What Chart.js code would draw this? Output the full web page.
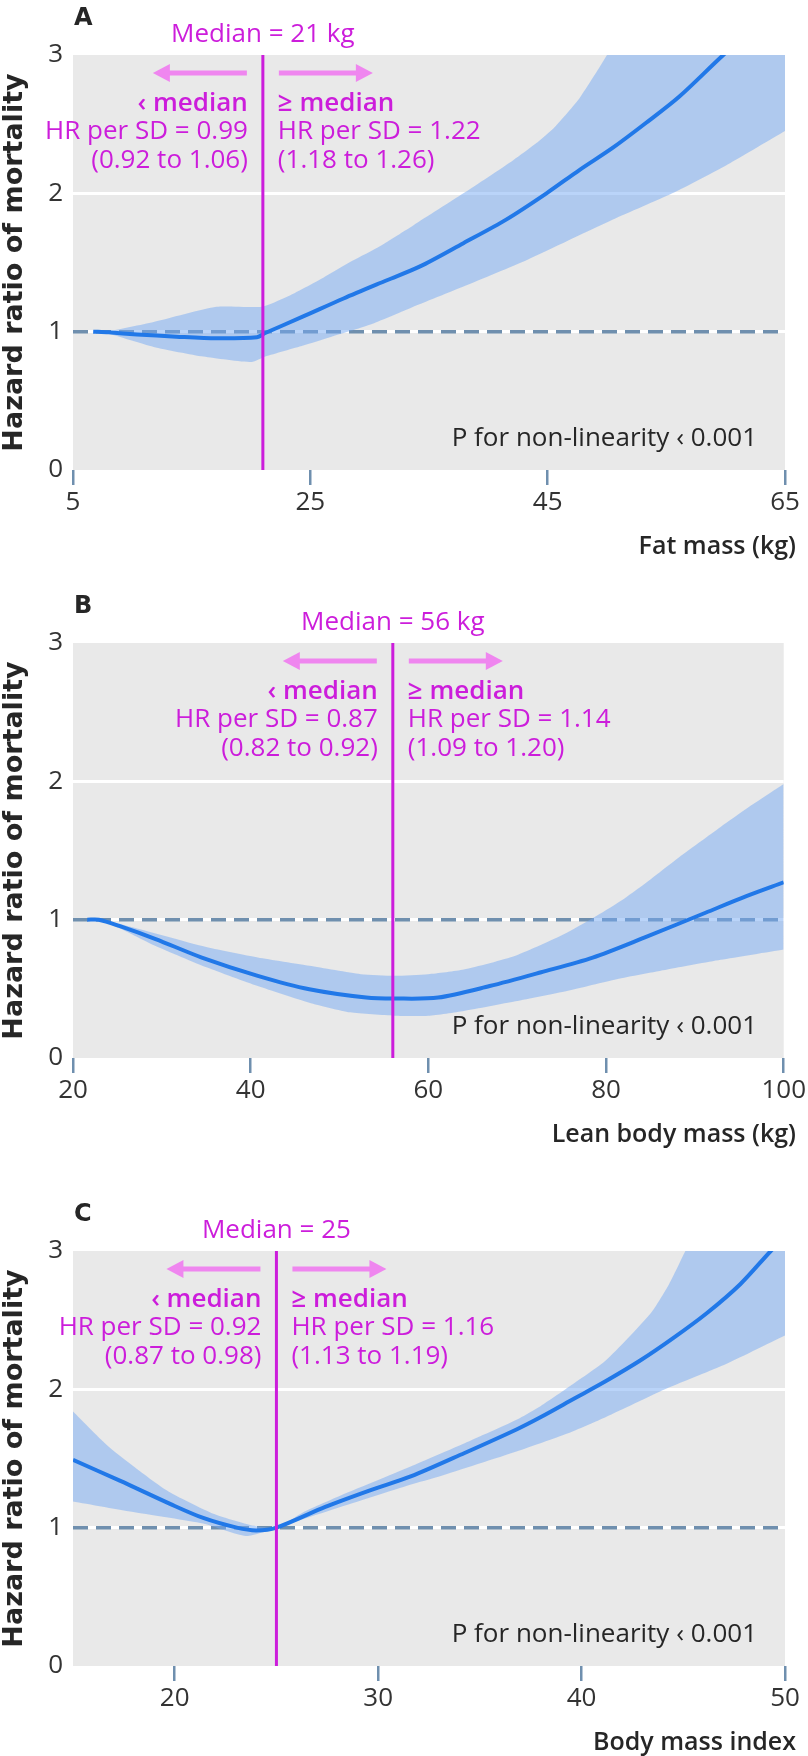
<!DOCTYPE html>
<html>
<head>
<meta charset="utf-8">
<script src="https://cdn.jsdelivr.net/npm/chart.js@4.4.0/dist/chart.umd.min.js"></script>
<style>
  html, body { margin: 0; padding: 0; background: #fff; }
  #wrap { position: relative; width: 808px; height: 1756px; }
  canvas { position: absolute; left: 0; }
</style>
</head>
<body>
<div id="wrap">
  <canvas id="chartA" width="808" height="560" style="top:0px"></canvas>
  <canvas id="chartB" width="808" height="560" style="top:588px"></canvas>
  <canvas id="chartC" width="808" height="560" style="top:1196px"></canvas>
</div>
<script>
const yTicks = [0, 1, 2, 3];

// A - fat mass
const fatTicks = [5, 25, 45, 65];
const fatX = [6.7, 8, 10.4, 13.7, 17.1, 20.5, 21.2, 24.4, 27.8, 31.4, 34.2, 37.9, 41.5, 44.9, 47.7, 50.5, 53.3, 56.1, 59.8, 62.5, 65];
const fatHR = [1.0, 0.995, 0.98, 0.964, 0.952, 0.96, 0.99, 1.11, 1.24, 1.37, 1.47, 1.64, 1.81, 2.0, 2.17, 2.33, 2.51, 2.70, 3.0, 3.2, 3.4];
const fatUpperX = [6.7, 7.8, 11.8, 17.1, 20.9, 23.0, 26.1, 28.5, 30.9, 33.7, 37.9, 42.1, 44.0, 45.6, 47.7, 50.0, 52, 55, 60, 65];
const fatUpper = [1.0, 1.0, 1.07, 1.18, 1.18, 1.25, 1.39, 1.51, 1.62, 1.77, 2.0, 2.24, 2.36, 2.48, 2.69, 3.0, 3.3, 3.8, 4.5, 5.2];
const fatLowerX = [6.7, 7.8, 11.8, 16.0, 20.05, 21.2, 24.4, 26.65, 30.0, 33.4, 38.0, 43.3, 50.5, 55.5, 60.4, 65];
const fatLower = [1.0, 0.99, 0.89, 0.82, 0.78, 0.82, 0.90, 0.96, 1.05, 1.17, 1.33, 1.52, 1.81, 2.0, 2.22, 2.45];

// B - lean body mass
const leanTicks = [20, 40, 60, 80, 100];
const leanX = [21.6, 22.9, 25.2, 29.3, 34.5, 40.8, 46.6, 53.0, 56.2, 61.1, 66.9, 72.7, 78.5, 84.3, 91.2, 95.8, 100];
const leanHR = [1.0, 1.0, 0.955, 0.86, 0.726, 0.594, 0.497, 0.437, 0.43, 0.437, 0.52, 0.62, 0.726, 0.87, 1.05, 1.17, 1.27];
const leanUpperX = [21.6, 22.9, 25.2, 35.1, 40.8, 46.6, 52.4, 56.2, 60, 64, 69.8, 75.6, 79, 82, 85, 88, 92.9, 96, 100];
const leanUpper = [1.0, 1.0, 0.97, 0.80, 0.726, 0.666, 0.606, 0.594, 0.606, 0.64, 0.74, 0.906, 1.03, 1.15, 1.29, 1.44, 1.67, 1.81, 1.98];
const leanLowerX = [21.6, 22.9, 25.2, 29.3, 35.1, 40.8, 46.6, 51.2, 56.2, 60, 64, 69.8, 75.6, 81.2, 86.9, 92.9, 100];
const leanLower = [1.0, 1.0, 0.94, 0.81, 0.654, 0.52, 0.40, 0.33, 0.305, 0.305, 0.34, 0.41, 0.485, 0.57, 0.64, 0.71, 0.785];

// C - body mass index
const bmiTicks = [20, 30, 40, 50];
const bmiX = [15, 17.3, 19.8, 21.4, 23.05, 24.0, 25, 27.4, 29.6, 31.6, 34.25, 36.8, 38.0, 39.6, 41.2, 42.9, 44.5, 46.15, 47.8, 49.3, 50];
const bmiHR = [1.49, 1.34, 1.17, 1.07, 1.0, 0.98, 1.0, 1.15, 1.27, 1.37, 1.54, 1.71, 1.80, 1.93, 2.06, 2.21, 2.37, 2.55, 2.76, 3.0, 3.1];
const bmiUpperX = [15, 16.8, 19.6, 21.9, 23.7, 25, 26.3, 27.96, 31.57, 34.25, 36.8, 38.0, 39.4, 41.2, 43.4, 44.3, 45.1, 46, 47, 50];
const bmiUpper = [1.84, 1.58, 1.27, 1.10, 1.02, 1.0, 1.11, 1.22, 1.44, 1.61, 1.78, 1.88, 2.02, 2.21, 2.55, 2.76, 3.0, 3.28, 3.58, 4.5];
const bmiLowerX = [15, 18.1, 21.4, 23.5, 25, 27.96, 31.57, 33.0, 36.8, 39.3, 41.2, 44.1, 46.9, 50];
const bmiLower = [1.19, 1.11, 1.03, 0.94, 1.0, 1.14, 1.31, 1.37, 1.55, 1.68, 1.80, 2.0, 2.17, 2.39];

const medians = [21, 56, 25];
const medianLabels = ['Median = 21 kg', 'Median = 56 kg', 'Median = 25'];
const lowHR = ['HR per SD = 0.99', 'HR per SD = 0.87', 'HR per SD = 0.92'];
const lowCI = ['(0.92 to 1.06)', '(0.82 to 0.92)', '(0.87 to 0.98)'];
const highHR = ['HR per SD = 1.22', 'HR per SD = 1.14', 'HR per SD = 1.16'];
const highCI = ['(1.18 to 1.26)', '(1.09 to 1.20)', '(1.13 to 1.19)'];
const xTitles = ['Fat mass (kg)', 'Lean body mass (kg)', 'Body mass index'];
const letters = ['A', 'B', 'C'];

const magenta = '#cc1ddb';
const arrowPink = '#ef86ef';
const lineBlue = '#2178e8';
const bandBlue = 'rgba(118,170,244,0.5)';
const refBlue = '#6f8fae';
const textDark = '#262626';
const lightFont = '"Open Sans", "Noto Sans", sans-serif';

function pts(xs, ys) {
  return xs.map((x, i) => ({ x: x, y: ys[i] }));
}

function arrow(ctx, x0, x1, y) {
  const dir = Math.sign(x1 - x0);
  ctx.beginPath();
  ctx.moveTo(x0, y);
  ctx.lineTo(x1 - dir * 14, y);
  ctx.lineWidth = 5;
  ctx.strokeStyle = arrowPink;
  ctx.stroke();
  ctx.beginPath();
  ctx.moveTo(x1, y);
  ctx.lineTo(x1 - dir * 17, y - 9);
  ctx.lineTo(x1 - dir * 17, y + 9);
  ctx.closePath();
  ctx.fillStyle = arrowPink;
  ctx.fill();
}

const annotate = {
  id: 'annotate',
  beforeDraw(chart) {
    const a = chart.chartArea, ctx = chart.ctx;
    ctx.save();
    ctx.fillStyle = '#e9e9e9';
    ctx.fillRect(a.left, a.top, a.right - a.left, a.bottom - a.top);
    ctx.restore();
  },
  afterDraw(chart, args, o) {
    const ctx = chart.ctx, a = chart.chartArea;
    const m = chart.scales.x.getPixelForValue(o.median);
    ctx.save();
    ctx.textBaseline = 'middle';

    ctx.fillStyle = textDark;
    ctx.font = 'bold 24px "DejaVu Sans"';
    ctx.textAlign = 'left';
    ctx.fillText(o.letter, 74, a.top - 36);

    ctx.fillStyle = magenta;
    ctx.font = '400 26px ' + lightFont;
    ctx.textAlign = 'center';
    ctx.fillText(o.label, m, a.top - 20);

    arrow(ctx, m - 16, m - 110, a.top + 18);
    arrow(ctx, m + 16, m + 110, a.top + 18);

    ctx.fillStyle = magenta;
    ctx.textAlign = 'right';
    ctx.font = '600 26px ' + lightFont;
    ctx.fillText('‹ median', m - 15, a.top + 49);
    ctx.font = '400 26px ' + lightFont;
    ctx.fillText(o.lowHR, m - 15, a.top + 77);
    ctx.fillText(o.lowCI, m - 15, a.top + 106);

    ctx.textAlign = 'left';
    ctx.font = '600 26px ' + lightFont;
    ctx.fillText('≥ median', m + 15, a.top + 49);
    ctx.font = '400 26px ' + lightFont;
    ctx.fillText(o.highHR, m + 15, a.top + 77);
    ctx.fillText(o.highCI, m + 15, a.top + 106);

    ctx.fillStyle = textDark;
    ctx.textAlign = 'right';
    ctx.fillText('P for non-linearity ‹ 0.001', 757, a.bottom - 31);

    ctx.font = '600 25px ' + lightFont;
    ctx.fillText(o.xTitle, 796, a.bottom + 77);
    ctx.restore();
  }
};

function panel(id, i, xMin, xMax, xTicks, x, hr, upX, up, loX, lo) {
  return new Chart(document.getElementById(id), {
    type: 'line',
    data: {
      datasets: [
        { data: [{ x: medians[i], y: 0 }, { x: medians[i], y: 3 }], borderColor: magenta, borderWidth: 3, pointRadius: 0, fill: false, order: 0 },
        { data: pts(x, hr), borderColor: lineBlue, borderWidth: 4, pointRadius: 0, tension: 0.3, fill: false, order: 1 },
        { data: pts(upX, up), borderColor: 'transparent', borderWidth: 0, pointRadius: 0, tension: 0.2, fill: '+1', backgroundColor: bandBlue, order: 2 },
        { data: pts(loX, lo), borderColor: 'transparent', borderWidth: 0, pointRadius: 0, tension: 0.2, fill: false, order: 3 },
        { data: [{ x: xMin, y: 1 }, { x: xMax, y: 1 }], borderColor: refBlue, borderWidth: 3.5, borderDash: [15, 8], pointRadius: 0, fill: false, order: 4 }
      ]
    },
    options: {
      responsive: false,
      animation: false,
      devicePixelRatio: 1,
      layout: { padding: { top: 55, right: 23, left: 0, bottom: 0 } },
      plugins: {
        legend: { display: false },
        tooltip: { enabled: false },
        annotate: {
          median: medians[i], label: medianLabels[i], letter: letters[i],
          lowHR: lowHR[i], lowCI: lowCI[i], highHR: highHR[i], highCI: highCI[i], xTitle: xTitles[i]
        }
      },
      scales: {
        x: {
          type: 'linear', min: xMin, max: xMax,
          afterBuildTicks: s => { s.ticks = xTicks.map(v => ({ value: v })); },
          afterFit: s => { s.height = 90; },
          grid: { drawOnChartArea: false, drawTicks: true, tickLength: 15, tickColor: refBlue, lineWidth: 2.5, color: 'transparent' },
          border: { display: false },
          ticks: { font: { family: lightFont, size: 26, weight: '400' }, color: '#333', padding: 2, maxRotation: 0, autoSkip: false }
        },
        y: {
          min: 0, max: 3,
          afterBuildTicks: s => { s.ticks = yTicks.map(v => ({ value: v })); },
          afterFit: s => { s.width = 73; },
          grid: {
            color: c => (c.tick && (c.tick.value === 1 || c.tick.value === 2)) ? '#ffffff' : 'transparent',
            lineWidth: 3, drawTicks: false
          },
          border: { display: false },
          ticks: { font: { family: lightFont, size: 26, weight: '400' }, color: '#333', padding: 10 },
          title: {
            display: true, text: 'Hazard ratio of mortality', color: textDark, padding: 1,
            font: { family: '"DejaVu Sans", sans-serif', weight: 'bold', size: 27, lineHeight: 1 }
          }
        }
      }
    },
    plugins: [annotate]
  });
}

panel('chartA', 0, 5, 65, fatTicks, fatX, fatHR, fatUpperX, fatUpper, fatLowerX, fatLower);
panel('chartB', 1, 20, 100, leanTicks, leanX, leanHR, leanUpperX, leanUpper, leanLowerX, leanLower);
panel('chartC', 2, 15, 50, bmiTicks, bmiX, bmiHR, bmiUpperX, bmiUpper, bmiLowerX, bmiLower);
</script>
</body>
</html>
